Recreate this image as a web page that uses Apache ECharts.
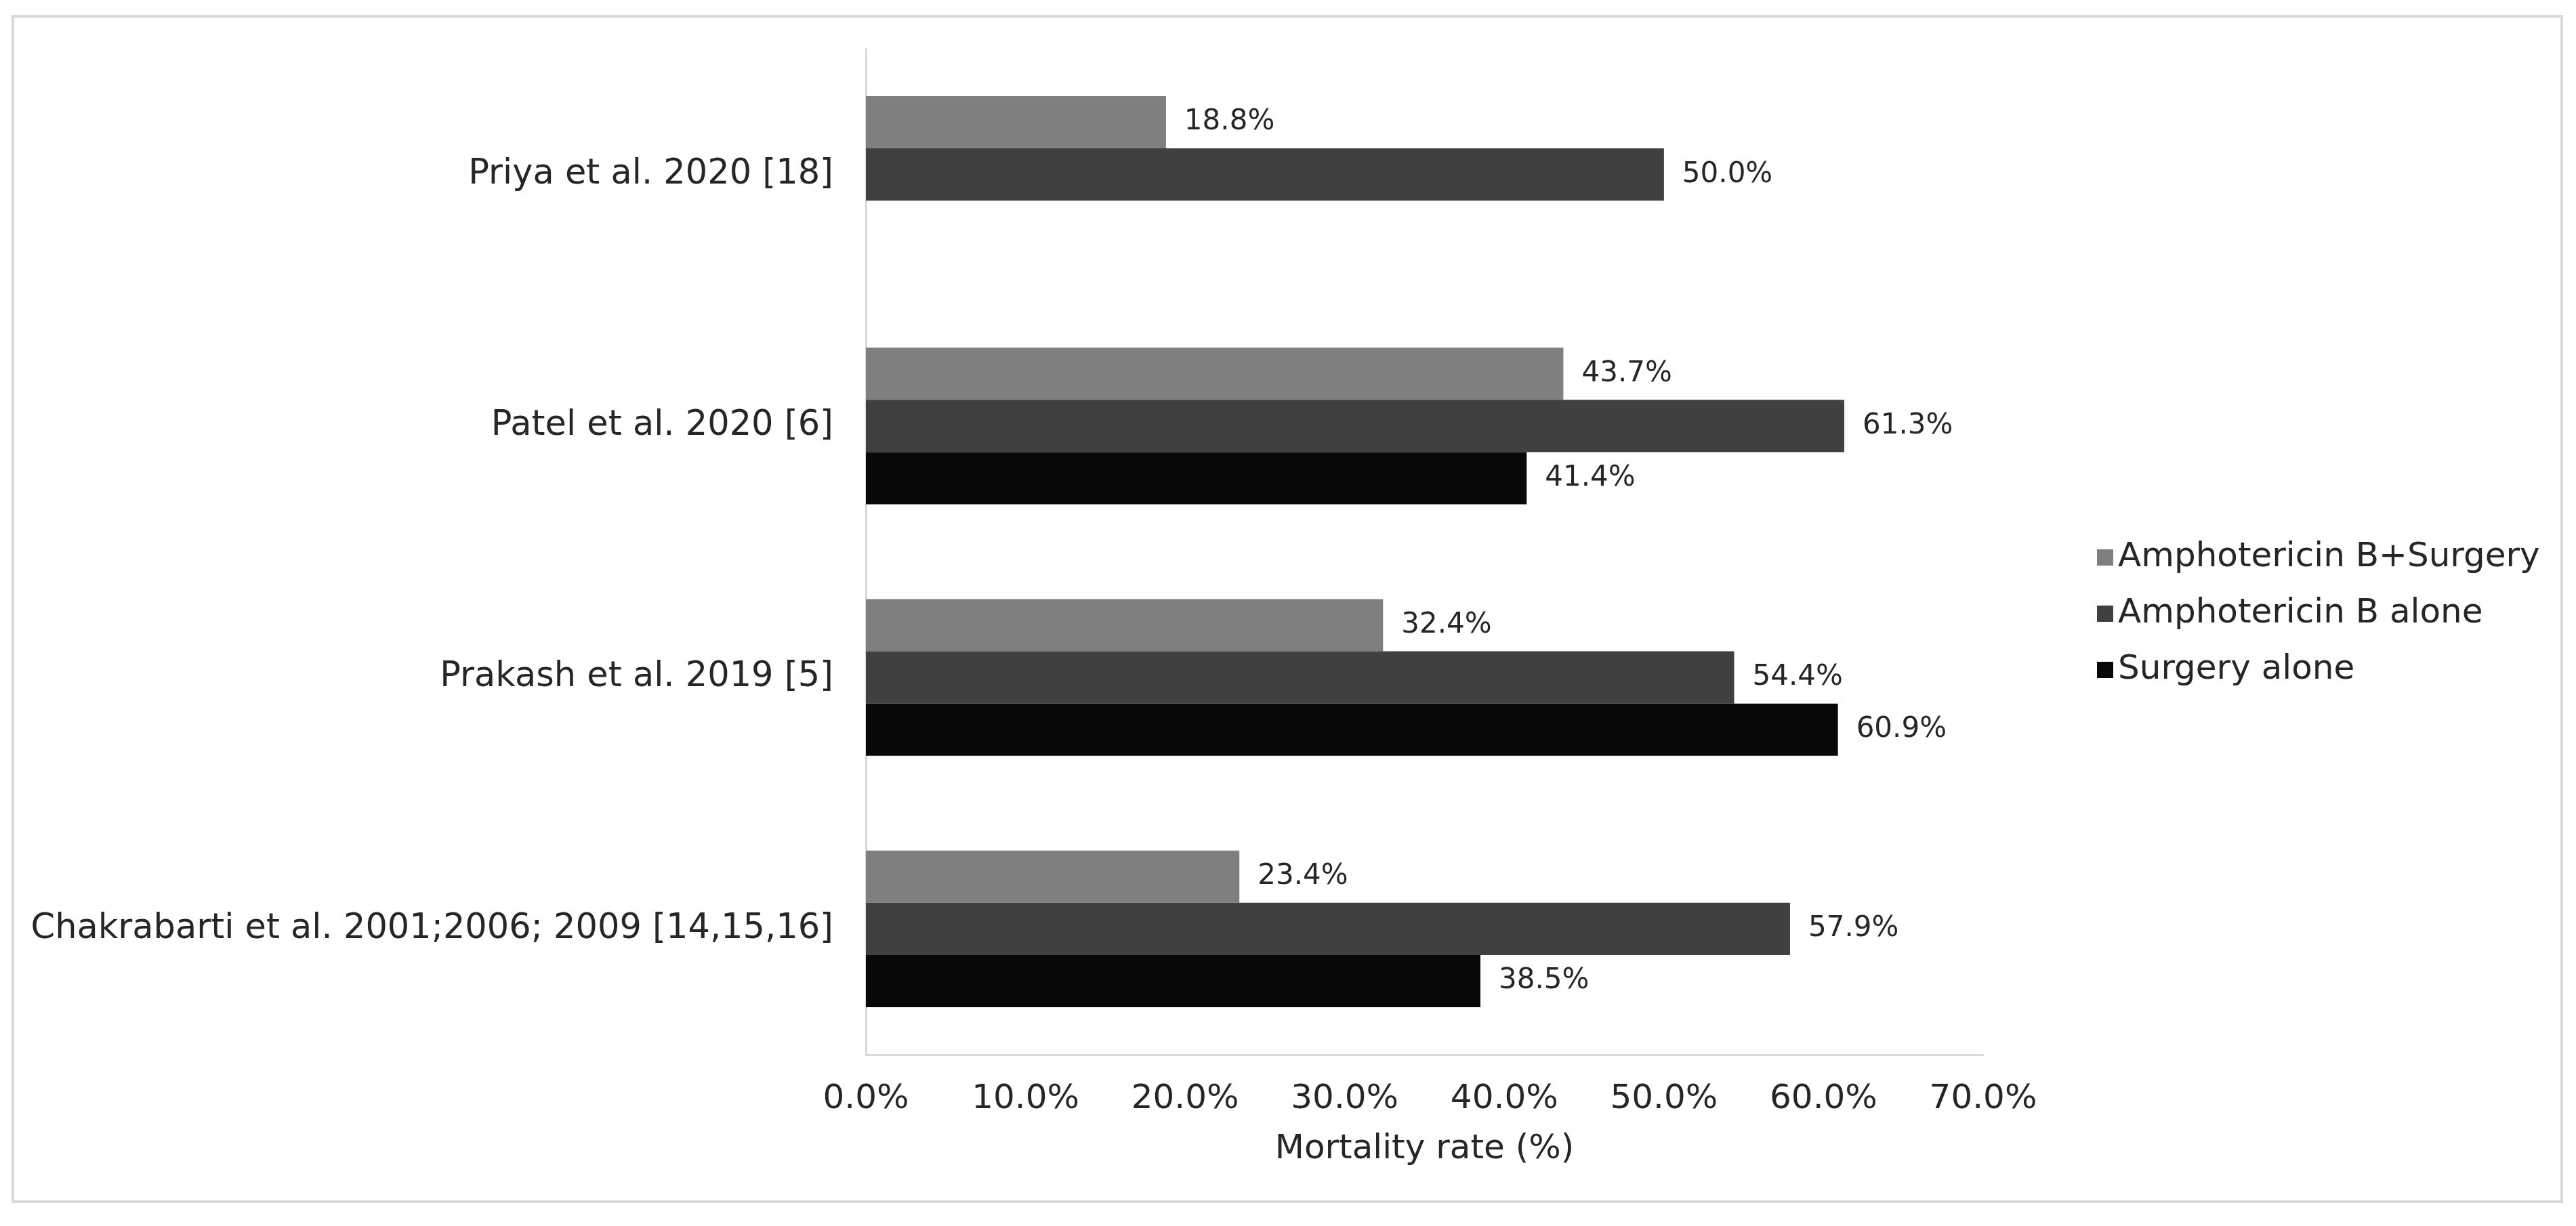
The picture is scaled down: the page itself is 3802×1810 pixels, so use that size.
<!DOCTYPE html>
<html>
<head>
<meta charset="utf-8">
<script src="https://cdn.jsdelivr.net/npm/echarts@6/dist/echarts.min.js"></script>
<style>
html,body{margin:0;padding:0;background:#fff;}
#chart{width:3802px;height:1810px;}
</style>
</head>
<body>
<div id="chart"></div>
<script>
const categories = [
  'Priya et al. 2020 [18]',
  'Patel et al. 2020 [6]',
  'Prakash et al. 2019 [5]',
  'Chakrabarti et al. 2001;2006; 2009 [14,15,16]'
];
const seriesNames = ['Amphotericin B+Surgery', 'Amphotericin B alone', 'Surgery alone'];
const amphoSurgery = [18.8, 43.7, 32.4, 23.4];
const amphoAlone = [50.0, 61.3, 54.4, 57.9];
const surgeryAlone = [null, 41.4, 60.9, 38.5];
const xTicks = [0, 10, 20, 30, 40, 50, 60, 70];

const colors = ['#7f7f7f', '#404040', '#080808'];
const FONT = 'DejaVu Sans';
const textColor = '#262626';

const chart = echarts.init(document.getElementById('chart'), null, {renderer: 'canvas'});

function mkSeries(name, data, color) {
  return {
    name: name,
    type: 'bar',
    data: data.map(v => v === null ? '-' : v),
    itemStyle: {color: color},
    barGap: '0%',
    barCategoryGap: '37.7%',
    label: {
      show: true,
      position: 'right',
      distance: 27,
      fontFamily: FONT,
      fontSize: 42,
      color: textColor,
      formatter: p => Number(p.value).toFixed(1) + '%'
    }
  };
}

chart.setOption({
  backgroundColor: '#ffffff',
  animation: false,
  graphic: [{
    type: 'rect',
    shape: {x: 19, y: 24, width: 3762, height: 1750},
    style: {fill: 'none', stroke: '#d9d9d9', lineWidth: 4},
    silent: true
  }],
  grid: {left: 1278, right: 875, top: 72, bottom: 253, containLabel: false},
  legend: {
    orient: 'vertical',
    left: 3090,
    top: 793,
    icon: 'rect',
    itemWidth: 24,
    itemHeight: 24,
    itemGap: 33,
    data: seriesNames,
    textStyle: {fontFamily: FONT, fontSize: 50, color: textColor, lineHeight: 50, padding: [0, 0, 0, 2]}
  },
  xAxis: {
    type: 'value',
    min: xTicks[0],
    max: xTicks[xTicks.length - 1],
    interval: xTicks[1] - xTicks[0],
    axisLine: {show: true, lineStyle: {color: '#d9d9d9', width: 3}},
    axisTick: {show: false},
    splitLine: {show: false},
    axisLabel: {
      margin: 41,
      fontFamily: FONT,
      fontSize: 50,
      color: textColor,
      formatter: v => v.toFixed(1) + '%'
    },
    name: 'Mortality rate (%)',
    nameLocation: 'middle',
    nameGap: 115,
    nameTextStyle: {fontFamily: FONT, fontSize: 50, color: textColor}
  },
  yAxis: {
    type: 'category',
    inverse: true,
    data: categories,
    axisLine: {show: true, lineStyle: {color: '#d9d9d9', width: 3}},
    axisTick: {show: false},
    splitLine: {show: false},
    axisLabel: {margin: 48, fontFamily: FONT, fontSize: 51, color: textColor}
  },
  series: [
    mkSeries(seriesNames[0], amphoSurgery, colors[0]),
    mkSeries(seriesNames[1], amphoAlone, colors[1]),
    mkSeries(seriesNames[2], surgeryAlone, colors[2])
  ]
});
</script>
</body>
</html>
